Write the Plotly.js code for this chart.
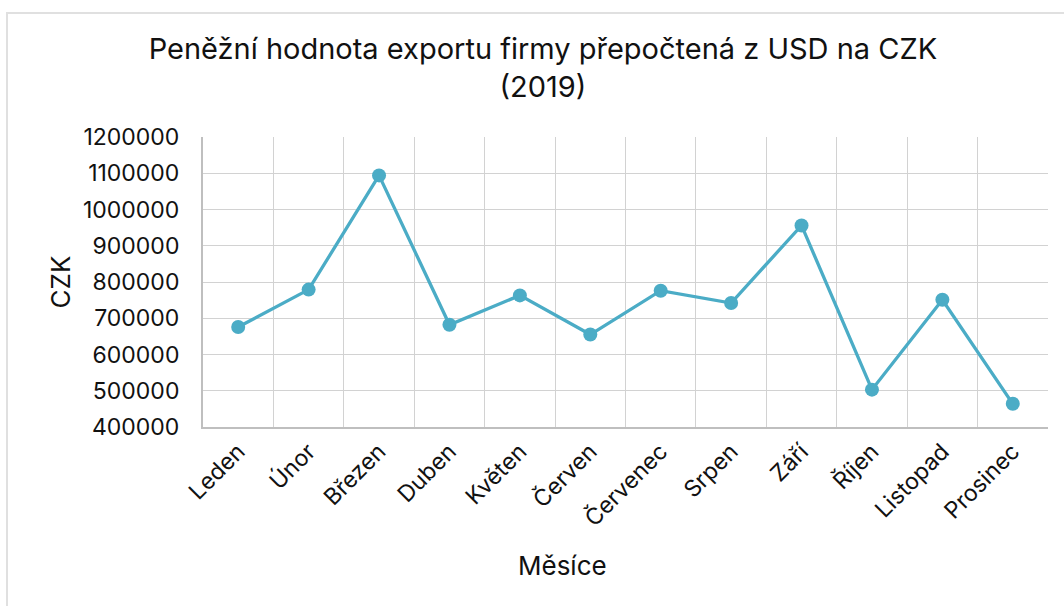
<!DOCTYPE html>
<html>
<head>
<meta charset="utf-8">
<script src="https://cdn.plot.ly/plotly-3.0.1.min.js"></script>
<style>
html,body{margin:0;padding:0;background:#fff;}
#wrap{position:relative;width:1064px;height:606px;overflow:hidden;}
#chart{position:absolute;left:0;top:0;width:1064px;height:606px;}
#frame{position:absolute;left:6px;top:12px;width:1100px;height:592px;border-top:2px solid #e0e0e0;border-left:2px solid #e0e0e0;pointer-events:none;}
</style>
</head>
<body>
<div id="wrap"><div id="chart"></div><div id="frame"></div></div>
<script>
const months = ["Leden","Únor","Březen","Duben","Květen","Červen","Červenec","Srpen","Září","Říjen","Listopad","Prosinec"];
const valuesCZK = [676000, 779000, 1094000, 682000, 763000, 655000, 776000, 742000, 956000, 503000, 751000, 464000];
const chartTitle = "Peněžní hodnota exportu firmy přepočtená z USD na CZK<br>(2019)";
const xTitle = "Měsíce";
const yTitle = "CZK";

const FONT = "Inter, 'Noto Sans', sans-serif";
const trace = {
  x: months,
  y: valuesCZK,
  type: "scatter",
  mode: "lines+markers",
  line: {color: "#4bacc6", width: 3.3},
  marker: {color: "#4bacc6", size: 14},
  hoverinfo: "x+y"
};
const layout = {
  width: 1064, height: 606,
  margin: {l: 203, r: 16, t: 137, b: 179},
  paper_bgcolor: "#ffffff",
  plot_bgcolor: "#ffffff",
  font: {family: FONT, color: "#111111"},
  showlegend: false,
  title: {
    text: chartTitle,
    font: {family: FONT, size: 29, color: "#111111"},
    x: 0.5103, xanchor: "center",
    y: 0.902, yanchor: "top", yref: "container"
  },
  xaxis: {
    type: "category",
    range: [-0.5, 11.5],
    autorange: false,
    tickson: "boundaries",
    showgrid: true, gridcolor: "#d2d2d2", gridwidth: 1,
    showline: true, linecolor: "#bfbfbf", linewidth: 2,
    ticks: "", tickangle: -45,
    tickfont: {family: FONT, size: 23, color: "#111111"},
    mirror: false
  },
  yaxis: {
    range: [400000, 1200000],
    autorange: false,
    dtick: 100000, tick0: 400000,
    tickformat: "d",
    showgrid: true, gridcolor: "#d2d2d2", gridwidth: 1,
    zeroline: false,
    showline: true, linecolor: "#bfbfbf", linewidth: 2,
    ticks: "", ticklen: 0,
    ticklabelstandoff: 17,
    tickfont: {family: FONT, size: 23, color: "#111111"},
    title: {text: yTitle, font: {family: FONT, size: 26, color: "#111111"}, standoff: 5}
  },
  annotations: [{
    text: xTitle,
    xref: "paper", yref: "paper",
    x: 0.426, y: -0.476,
    xanchor: "center", yanchor: "middle",
    showarrow: false,
    font: {family: FONT, size: 26, color: "#111111"}
  }]
};
Plotly.newPlot("chart", [trace], layout, {displayModeBar: false, staticPlot: true});
</script>
</body>
</html>
